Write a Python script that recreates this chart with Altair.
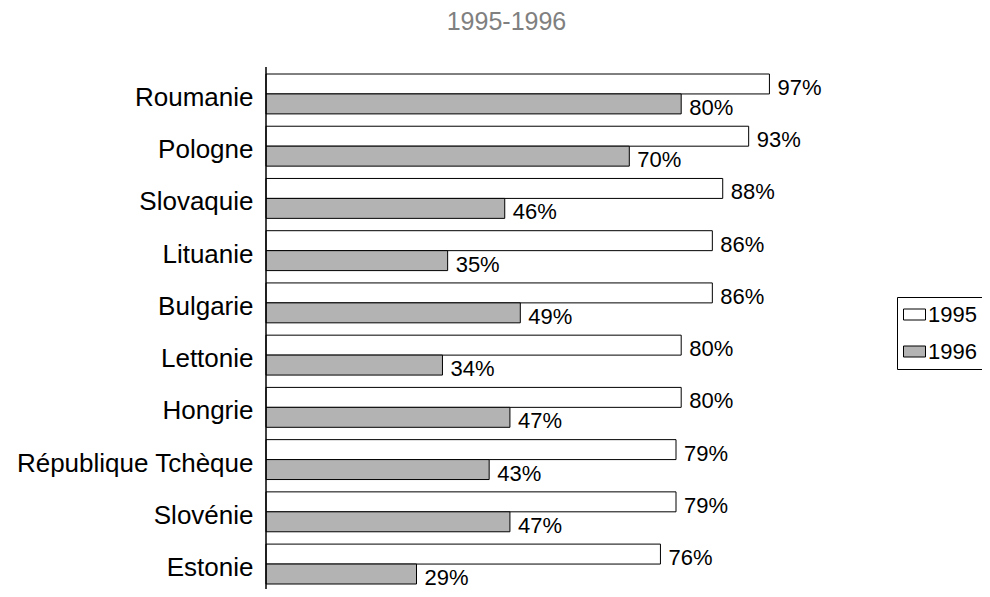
import altair as alt
import pandas as pd

pays = ["Roumanie", "Pologne", "Slovaquie", "Lituanie", "Bulgarie",
        "Lettonie", "Hongrie", "République Tchèque", "Slovénie", "Estonie"]
v1995 = [97, 93, 88, 86, 86, 80, 80, 79, 79, 76]
v1996 = [80, 70, 46, 35, 49, 34, 47, 43, 47, 29]
annees = ["1995", "1996"]

rows = []
for p, a, b in zip(pays, v1995, v1996):
    rows.append({"Pays": p, "Année": "1995", "Valeur": a, "Label": f"{a}%"})
    rows.append({"Pays": p, "Année": "1996", "Valeur": b, "Label": f"{b}%"})
df = pd.DataFrame(rows)

FONT = "Liberation Sans"
H = 510

x_enc = alt.X("Valeur:Q", scale=alt.Scale(domain=[0, 100], nice=False, zero=True), axis=None)
y_enc = alt.Y("Pays:N", sort=pays,
              scale=alt.Scale(paddingInner=0.236, paddingOuter=0),
              axis=alt.Axis(title=None, ticks=False, domain=False, grid=False,
                            labelFontSize=26, labelFont=FONT, labelColor="black",
                            labelPadding=13, labelOffset=4, labelLimit=400))
yoff = alt.YOffset("Année:N", sort=annees)

base = alt.Chart(df).encode(y=y_enc, yOffset=yoff)

bars = base.mark_bar(stroke="black", strokeWidth=1).encode(
    x=x_enc,
    color=alt.Color("Année:N",
                    scale=alt.Scale(domain=annees, range=["white", "#b3b3b3"]),
                    legend=alt.Legend(title=None, orient="none", legendX=631, legendY=223,
                                      symbolType="M-1,-0.5H1V0.5H-1Z", symbolSize=484,
                                      symbolStrokeColor="black", symbolStrokeWidth=1,
                                      symbolOpacity=1,
                                      labelFontSize=22, labelFont=FONT, labelColor="black",
                                      labelOffset=2, rowPadding=14, padding=6,
                                      strokeColor="black", fillColor="white")),
)

text = base.mark_text(align="left", baseline="middle", dx=8, dy=4,
                      fontSize=22, font=FONT, color="black").encode(
    x=x_enc, text="Label:N")

axis_line = alt.Chart(pd.DataFrame({"a": [0]})).mark_rule(color="black", strokeWidth=1.5).encode(
    x=alt.value(0), y=alt.value(-7), y2=alt.value(H + 5))

chart = alt.layer(bars, text, axis_line).properties(
    width=519, height=H,
    title=alt.TitleParams("1995-1996", fontSize=25, font=FONT, fontWeight="normal",
                          color="#808080", anchor="middle", frame="group", dx=-19,
                          offset=11, baseline="alphabetic"),
    autosize=alt.AutoSizeParams(type="none"),
    padding={"left": 258, "top": 66, "right": 197, "bottom": 5},
).configure_view(stroke=None)

chart.save("out.html", embed_options={"renderer": "svg", "actions": False})
